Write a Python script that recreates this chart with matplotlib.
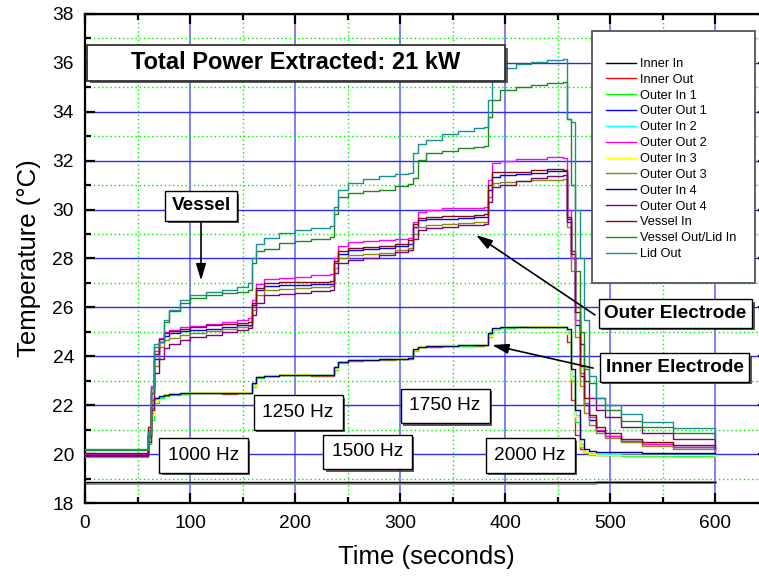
import matplotlib
matplotlib.use("Agg")
import matplotlib.pyplot as plt
from matplotlib.ticker import MultipleLocator
from matplotlib.patches import Rectangle
import matplotlib.patheffects as pe

plt.rcParams['font.family'] = ['Liberation Sans', 'DejaVu Sans']

# ---------------- data ----------------
time_s = [0, 55, 60, 63, 66, 70, 75, 80, 90, 100, 115, 130, 145, 155, 159, 163, 170, 185, 200, 215,
          233, 237, 241, 250, 265, 280, 295, 308, 312, 317, 325, 340, 355, 370, 380, 384, 388, 395, 410, 425,
          440, 455, 459, 463, 467, 471, 475, 480, 487, 495, 510, 530, 560, 600]

inner_in = [18.87, 18.86, 18.86, 18.87, 18.86, 18.85, 18.86, 18.86, 18.87, 18.85, 18.86, 18.86, 18.85, 18.86,
            18.86, 18.87, 18.86, 18.85, 18.86, 18.86, 18.85, 18.86, 18.87, 18.86, 18.85, 18.86, 18.86, 18.87,
            18.86, 18.85, 18.86, 18.86, 18.85, 18.86, 18.86, 18.87, 18.86, 18.85, 18.86, 18.86, 18.85, 18.86,
            18.86, 18.85, 18.86, 18.86, 18.87, 18.86, 18.86, 18.87, 18.87, 18.86, 18.87, 18.87]
ambient = [18.82, 18.83, 18.82, 18.82, 18.83, 18.82, 18.81, 18.82, 18.83, 18.82, 18.82, 18.81, 18.82, 18.83,
           18.82, 18.82, 18.81, 18.82, 18.83, 18.82, 18.82, 18.81, 18.82, 18.82, 18.83, 18.82, 18.82, 18.81,
           18.82, 18.83, 18.82, 18.82, 18.81, 18.82, 18.82, 18.83, 18.82, 18.82, 18.81, 18.82, 18.82, 18.83,
           18.82, 18.82, 18.83, 18.82, 18.83, 18.83, 18.84, 18.84, 18.84, 18.85, 18.85, 18.85]
inner_out = [19.95, 19.95, 20.7, 21.9, 22.3, 22.35, 22.4, 22.44, 22.47, 22.48, 22.48, 22.47, 22.48, 22.48,
             22.85, 23.15, 23.2, 23.22, 23.22, 23.2, 23.2, 23.55, 23.76, 23.82, 23.85, 23.86, 23.88, 23.9,
             24.25, 24.38, 24.4, 24.42, 24.43, 24.44, 24.45, 24.9, 25.12, 25.16, 25.18, 25.18, 25.2, 25.18,
             24.6, 22.2, 20.8, 20.2, 20.05, 20.0, 19.98, 19.97, 19.96, 19.95, 19.94, 19.92]
outer_in_1 = [19.9, 19.9, 20.4, 21.4, 22.1, 22.3, 22.38, 22.43, 22.47, 22.5, 22.51, 22.5, 22.5, 22.5,
              22.75, 23.1, 23.2, 23.23, 23.24, 23.22, 23.22, 23.45, 23.72, 23.83, 23.86, 23.88, 23.9, 23.92,
              24.2, 24.38, 24.42, 24.43, 24.44, 24.45, 24.46, 24.8, 25.1, 25.17, 25.19, 25.2, 25.2, 25.2,
              25.0, 23.0, 21.3, 20.3, 20.05, 19.98, 19.95, 19.95, 19.93, 19.92, 19.92, 19.9]
outer_out_1 = [19.97, 19.97, 20.9, 22.5, 23.9, 24.6, 24.85, 24.95, 25.02, 25.07, 25.13, 25.2, 25.27, 25.3,
               26.1, 26.7, 26.88, 26.9, 26.92, 26.94, 26.96, 27.8, 28.2, 28.35, 28.4, 28.43, 28.5, 28.6,
               29.3, 29.57, 29.6, 29.62, 29.65, 29.68, 29.7, 30.8, 31.33, 31.4, 31.45, 31.5, 31.56, 31.58,
               29.6, 28.0, 25.3, 23.2, 22.0, 21.4, 20.95, 20.75, 20.55, 20.4, 20.28, 20.15]
outer_in_2 = [19.95, 19.95, 20.6, 21.7, 22.25, 22.35, 22.42, 22.46, 22.49, 22.5, 22.51, 22.5, 22.51, 22.5,
              22.85, 23.15, 23.22, 23.24, 23.25, 23.23, 23.23, 23.55, 23.76, 23.84, 23.87, 23.89, 23.91, 23.93,
              24.26, 24.4, 24.43, 24.45, 24.46, 24.47, 24.47, 24.9, 25.13, 25.18, 25.2, 25.21, 25.21, 25.2,
              25.0, 23.2, 21.6, 20.4, 20.1, 20.02, 20.0, 19.99, 19.98, 19.97, 19.96, 19.95]
outer_out_2 = [20.0, 20.0, 21.0, 22.8, 24.2, 24.75, 25.0, 25.08, 25.18, 25.25, 25.33, 25.42, 25.5, 25.57,
               26.3, 26.95, 27.15, 27.22, 27.25, 27.33, 27.35, 28.0, 28.5, 28.67, 28.72, 28.75, 28.8, 28.85,
               29.5, 29.9, 30.0, 30.05, 30.05, 30.08, 30.1, 31.2, 31.9, 31.97, 32.05, 32.08, 32.15, 32.1,
               30.0, 28.0, 25.5, 23.3, 22.1, 21.5, 21.0, 20.75, 20.55, 20.4, 20.28, 20.17]
outer_in_3 = [19.93, 19.93, 20.5, 21.6, 22.2, 22.36, 22.44, 22.48, 22.51, 22.53, 22.54, 22.53, 22.53, 22.52,
              22.8, 23.15, 23.24, 23.26, 23.27, 23.25, 23.24, 23.5, 23.75, 23.85, 23.88, 23.9, 23.92, 23.94,
              24.24, 24.41, 24.45, 24.47, 24.48, 24.48, 24.49, 24.85, 25.12, 25.19, 25.21, 25.22, 25.22, 25.21,
              24.9, 23.1, 21.5, 20.35, 20.08, 20.0, 19.98, 19.97, 19.96, 19.95, 19.95, 19.94]
outer_out_3 = [19.93, 19.93, 20.7, 22.2, 23.6, 24.4, 24.65, 24.75, 24.87, 24.95, 25.03, 25.1, 25.18, 25.22,
               25.9, 26.5, 26.7, 26.75, 26.8, 26.84, 26.88, 27.6, 28.0, 28.14, 28.2, 28.24, 28.35, 28.43,
               29.0, 29.3, 29.35, 29.4, 29.45, 29.48, 29.5, 30.5, 31.09, 31.13, 31.17, 31.2, 31.23, 31.25,
               29.3, 27.5, 24.8, 22.8, 21.7, 21.2, 20.85, 20.65, 20.48, 20.32, 20.2, 20.1]
outer_in_4 = [19.97, 19.97, 20.8, 22.0, 22.3, 22.37, 22.42, 22.46, 22.49, 22.5, 22.5, 22.5, 22.5, 22.5,
              22.9, 23.17, 23.21, 23.23, 23.24, 23.22, 23.22, 23.58, 23.78, 23.84, 23.86, 23.88, 23.9, 23.92,
              24.28, 24.39, 24.42, 24.44, 24.45, 24.46, 24.46, 24.95, 25.14, 25.18, 25.19, 25.2, 25.2, 25.2,
              25.1, 23.5, 21.8, 20.6, 20.2, 20.12, 20.1, 20.08, 20.07, 20.06, 20.05, 20.05]
outer_out_4 = [19.92, 19.92, 20.5, 21.8, 23.3, 23.9, 24.35, 24.5, 24.68, 24.79, 24.88, 24.98, 25.08, 25.16,
               25.7, 26.2, 26.5, 26.55, 26.6, 26.66, 26.71, 27.4, 27.8, 27.94, 28.03, 28.14, 28.25, 28.35,
               28.8, 29.16, 29.25, 29.3, 29.35, 29.38, 29.4, 30.3, 30.93, 31.0, 31.15, 31.28, 31.38, 31.42,
               29.5, 28.3, 26.0, 24.5, 23.0, 22.3, 21.8, 21.5, 21.1, 20.85, 20.6, 20.37]
vessel_in = [20.05, 20.05, 21.1, 22.7, 24.1, 24.7, 24.95, 25.05, 25.13, 25.2, 25.27, 25.32, 25.38, 25.42,
             26.2, 26.8, 27.0, 27.02, 27.03, 27.05, 27.08, 27.9, 28.3, 28.43, 28.47, 28.5, 28.6, 28.76,
             29.4, 29.66, 29.7, 29.72, 29.75, 29.77, 29.8, 31.0, 31.54, 31.52, 31.55, 31.6, 31.65, 31.62,
             29.7, 28.2, 25.8, 23.6, 22.3, 21.6, 21.1, 20.85, 20.62, 20.48, 20.38, 20.25]
vessel_out = [20.15, 20.15, 20.8, 22.5, 24.4, 24.6, 25.4, 25.85, 26.2, 26.4, 26.5, 26.58, 26.65, 26.7,
              27.8, 28.3, 28.4, 28.63, 28.72, 28.8, 28.88, 29.8, 30.5, 30.68, 30.75, 30.8, 30.95, 31.05,
              31.3, 32.03, 32.3, 32.4, 32.5, 32.58, 32.6, 33.8, 34.5, 34.9, 35.0, 35.1, 35.17, 35.2,
              33.7, 31.0, 27.5, 25.0, 23.5, 22.9, 22.3, 21.8, 21.35, 21.1, 20.85, 20.62]
lid_out = [20.2, 20.2, 20.9, 22.7, 24.5, 24.6, 25.5, 25.9, 26.3, 26.5, 26.62, 26.72, 26.85, 27.0,
           28.0, 28.6, 28.84, 29.04, 29.17, 29.25, 29.32, 30.1, 30.8, 31.1, 31.25, 31.37, 31.45, 31.5,
           32.3, 32.7, 32.85, 33.1, 33.2, 33.35, 33.38, 34.5, 35.6, 35.8, 35.95, 36.04, 36.12, 36.16,
           33.7, 33.6, 30.0, 28.0, 25.5, 23.2, 22.3, 22.0, 21.65, 21.3, 21.07, 20.82]

series_labels = ['Inner In', 'Inner Out', 'Outer In 1', 'Outer Out 1', 'Outer In 2', 'Outer Out 2',
                 'Outer In 3', 'Outer Out 3', 'Outer In 4', 'Outer Out 4', 'Vessel In',
                 'Vessel Out/Lid In', 'Lid Out']
series_values = [inner_in, inner_out, outer_in_1, outer_out_1, outer_in_2, outer_out_2, outer_in_3,
                 outer_out_3, outer_in_4, outer_out_4, vessel_in, vessel_out, lid_out]
series_colors = ['#000000', '#ff0000', '#00ff00', '#0000ff', '#00ffff', '#ff00ff', '#ffff00',
                 '#8a8a10', '#000080', '#800080', '#8a0a0a', '#1a8a1a', '#1a9090']

freq_labels = ['1000 Hz', '1250 Hz', '1500 Hz', '1750 Hz', '2000 Hz']

# ---------------- figure ----------------
W, H = 759, 578
fig = plt.figure(figsize=(W / 100, H / 100), dpi=100)
ax = fig.add_axes([85 / W, 75 / H, 682.5 / W, 489 / H])
ax.set_xlim(0, 650)
ax.set_ylim(18, 38)

ax.xaxis.set_major_locator(MultipleLocator(100))
ax.xaxis.set_minor_locator(MultipleLocator(50))
ax.yaxis.set_major_locator(MultipleLocator(2))
ax.yaxis.set_minor_locator(MultipleLocator(1))

ax.set_axisbelow(True)
ax.grid(which='major', axis='x', color='#6a6aff', lw=1.2)
ax.grid(which='major', axis='y', color='#2a2aff', lw=1.0)
ax.grid(which='minor', color='#00ee00', ls=(0, (1, 2)), lw=1.0)

for s in ax.spines.values():
    s.set_linewidth(1.6)
ax.tick_params(which='both', direction='in', top=True, right=True, width=1.6)
ax.tick_params(which='major', length=7.5, labelsize=13.8)
ax.tick_params(axis='x', which='major', pad=9)
ax.tick_params(axis='y', which='major', pad=8)
ax.tick_params(which='minor', length=4)

ax.set_xlabel('Time (seconds)', fontsize=18.5, labelpad=9)
ax.set_ylabel('Temperature (°C)', fontsize=18.5, labelpad=8)

ax.plot(time_s, ambient, color='#909090', lw=2.0, drawstyle='steps-post', zorder=2)
handles = []
for vals, lab, col in zip(series_values, series_labels, series_colors):
    ln, = ax.plot(time_s, vals, color=col, lw=1.0, drawstyle='steps-post', label=lab, zorder=3)
    handles.append(ln)

shadow = [pe.SimplePatchShadow(offset=(1.8, -1.8), shadow_rgbFace='#333333', alpha=0.8), pe.Normal()]

# title box
rect = Rectangle((2, 35.26), 398, 1.47, fc='white', ec='#333333', lw=1.3, zorder=8)
rect.set_path_effects(shadow)
ax.add_patch(rect)
ax.text(201, 36.0, 'Total Power Extracted: 21 kW', ha='center', va='center', fontsize=17,
        fontweight='bold', zorder=9)

# frequency boxes
freq_pos = [(113, 19.94), (203, 21.7), (269, 20.09), (343, 21.97), (424, 19.94)]
for lab, (x, y) in zip(freq_labels, freq_pos):
    t = ax.text(x, y, lab, ha='center', va='center', fontsize=13.8, zorder=9,
                bbox=dict(boxstyle='square,pad=0.45', fc='white', ec='black', lw=1.0))
    t.get_bbox_patch().set_path_effects(shadow)

arrow_kw = dict(arrowstyle='-|>,head_width=0.3,head_length=1.0', color='black', lw=1.2,
                shrinkA=0, shrinkB=0, mutation_scale=10)

# Vessel
t = ax.annotate('Vessel', xy=(110.5, 27.1), xytext=(110.5, 30.15), ha='center', va='center',
                fontsize=13.7, fontweight='bold', zorder=9,
                bbox=dict(boxstyle='square,pad=0.33', fc='white', ec='black', lw=1.0),
                arrowprops=arrow_kw)
t.get_bbox_patch().set_path_effects(shadow)

# Electrode arrows
ax.annotate('', xy=(372.4, 28.96), xytext=(485.7, 25.69), arrowprops=arrow_kw, zorder=9)
ax.annotate('', xy=(387.6, 24.46), xytext=(483.8, 23.52), arrowprops=arrow_kw, zorder=9)
for lab, (x, y) in zip(['Outer Electrode', 'Inner Electrode'], [(562.4, 25.75), (561.4, 23.54)]):
    t = ax.text(x, y, lab, ha='center', va='center', fontsize=13.7, fontweight='bold', zorder=9,
                bbox=dict(boxstyle='square,pad=0.3', fc='white', ec='black', lw=1.0))
    t.get_bbox_patch().set_path_effects(shadow)

# legend
frame = Rectangle((592 / W, 1 - 283 / H), 163 / W, 252 / H, transform=fig.transFigure,
                  fc='white', ec='#555555', lw=1.3, zorder=10)
ax.add_patch(frame)
leg = ax.legend(handles=handles, loc='upper left', bbox_to_anchor=(606 / W, 1 - 58 / H),
                bbox_transform=fig.transFigure, frameon=False, fontsize=9.2, handlelength=2.35,
                handletextpad=0.35, labelspacing=0.3, borderpad=0, borderaxespad=0)
leg.set_zorder(11)

fig.savefig('out.png', dpi=100)
